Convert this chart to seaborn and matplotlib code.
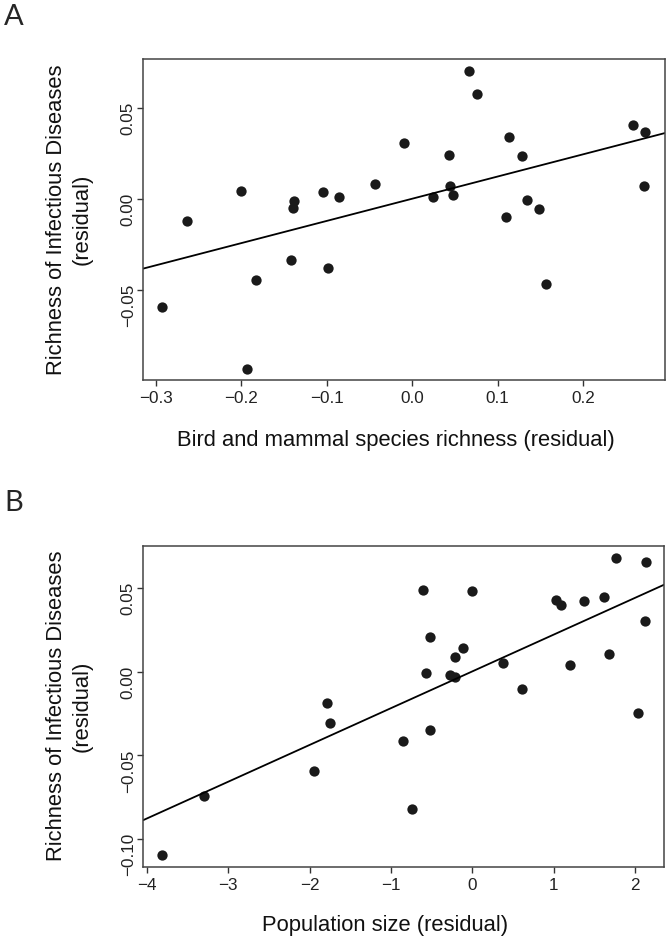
import numpy as np
import pandas as pd
import seaborn as sns
import matplotlib.pyplot as plt

# panel A: bird and mammal species richness (residual) vs disease richness (residual)
bird_mammal = [-0.293, -0.264, -0.201, -0.183, -0.193, -0.142, -0.139, -0.140,
               -0.104, -0.099, -0.086, -0.044, -0.010, 0.043, 0.044, 0.024,
               0.048, 0.066, 0.076, 0.113, 0.129, 0.110, 0.135, 0.148,
               0.157, 0.259, 0.273, 0.271]
disease_a = [-0.0597, -0.0121, 0.0044, -0.0448, -0.0934, -0.0337, -0.0011, -0.0049,
             0.0037, -0.0383, 0.0011, 0.0081, 0.0308, 0.0242, 0.0070, 0.0011,
             0.0022, 0.0700, 0.0574, 0.0339, 0.0235, -0.0099, -0.0007, -0.0057,
             -0.0469, 0.0403, 0.0366, 0.0071]

# panel B: population size (residual) vs disease richness (residual)
population = [-3.81, -3.30, -1.94, -1.79, -1.75, -0.85, -0.74, -0.60, -0.57, -0.52,
              -0.52, -0.27, -0.21, -0.21, -0.11, 0.00, 0.38, 0.61, 1.03, 1.09,
              1.20, 1.37, 1.62, 1.68, 1.77, 2.13, 2.12, 2.03]
disease_b = [-0.1095, -0.0743, -0.0595, -0.0189, -0.0305, -0.0416, -0.0818, 0.0490,
             -0.0010, 0.0205, -0.0348, -0.0022, -0.0032, 0.0090, 0.0140, 0.0480,
             0.0050, -0.0103, 0.0430, 0.0398, 0.0042, 0.0424, 0.0446, 0.0108,
             0.0681, 0.0657, 0.0305, -0.0249]

df_a = pd.DataFrame({'x': bird_mammal, 'y': disease_a})
df_b = pd.DataFrame({'x': population, 'y': disease_b})

sns.set_style('ticks')
plt.rcParams['font.family'] = ['Liberation Sans', 'DejaVu Sans']

fig = plt.figure(figsize=(6.7, 9.42), dpi=100)
ax_a = fig.add_axes([0.2139, 0.5966, 0.7786, 0.3408])
ax_b = fig.add_axes([0.2139, 0.0799, 0.7776, 0.3408])

ylab = 'Richness of Infectious Diseases\n(residual)'
panels = [
    (ax_a, df_a, (-0.3149, 0.296), (-0.0996, 0.0768), [-0.3, -0.2, -0.1, 0.0, 0.1, 0.2],
     [-0.05, 0.0, 0.05], 'Bird and mammal species richness (residual)', 'A', (0.484, -0.156)),
    (ax_b, df_b, (-4.042, 2.359), (-0.1165, 0.0753), [-4, -3, -2, -1, 0, 1, 2],
     [-0.10, -0.05, 0.0, 0.05], 'Population size (residual)', 'B', (0.464, -0.150)),
]

for ax, d, xl, yl, xt, yt, xlab, tag, xlab_pos in panels:
    ax.set_xlim(*xl)
    ax.set_ylim(*yl)
    sns.regplot(data=d, x='x', y='y', ax=ax, ci=None, truncate=False,
                scatter_kws={'s': 55, 'color': '#1a1a1a', 'alpha': 1, 'linewidths': 0},
                line_kws={'color': 'black', 'lw': 1.3})
    ax.set_xlim(*xl)
    ax.set_ylim(*yl)
    ax.set_xticks(xt)
    ax.set_yticks(yt)
    ax.set_yticklabels(['%.2f' % v if v >= 0 else '\u2212%.2f' % -v for v in yt])
    ax.tick_params(axis='y', labelrotation=90, pad=1.5)
    ax.tick_params(axis='x', pad=4)
    ax.tick_params(length=4, width=1, color='#333333', labelsize=12.3, labelcolor='#222222')
    for s in ax.spines.values():
        s.set_visible(True)
        s.set_color('#444444')
        s.set_linewidth(1.1)
    ax.set_xlabel(xlab, fontsize=15.8, color='#111111')
    ax.xaxis.set_label_coords(*xlab_pos)
    ax.set_ylabel(ylab, fontsize=15.8, color='#111111', labelpad=20, linespacing=1.3)
    bb = ax.get_position()
    fig.text(0.006, bb.y1 + 0.045, tag, fontsize=21, family='Lato', va='center', ha='left')

fig.savefig('out.png', dpi=100)
